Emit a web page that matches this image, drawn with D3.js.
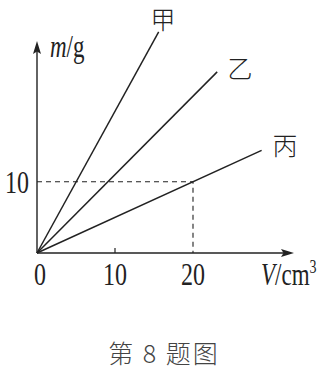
<!DOCTYPE html>
<html><head><meta charset="utf-8">
<script src="https://cdn.jsdelivr.net/npm/d3@7/dist/d3.min.js"></script>
<style>body{margin:0;background:#fff}svg{display:block}</style>
</head><body>
<script>
const seriesNames = ["甲", "乙", "丙"];
const endVolume = [15.6, 23.1, 28.8];   // cm3 at end of each line
const endMass = [31.0, 25.4, 14.4];     // g at end of each line
const xTicks = [0, 10, 20];
const yTicks = [10];
const guideV = 20, guideM = 10;

const W = 328, H = 375;
const svg = d3.select("body").append("svg").attr("width", W).attr("height", H);
const x = d3.scaleLinear().domain([0, 20]).range([37, 193]);
const y = d3.scaleLinear().domain([0, 10]).range([253, 181.7]);
const ink = "#222";
const serif = "'Liberation Serif','DejaVu Serif',serif";
const cjk = "'Noto Sans CJK SC',sans-serif";
const stretch = 1.33;

// axes
svg.append("line").attr("x1", x(0)).attr("y1", y(0)).attr("x2", 290).attr("y2", y(0))
  .attr("stroke", ink).attr("stroke-width", 1.4);
svg.append("path").attr("d", `M294,${y(0)} L281,${y(0)-4} L283.5,${y(0)} L281,${y(0)+4} Z`).attr("fill", ink);
svg.append("line").attr("x1", x(0)).attr("y1", y(0)).attr("x2", x(0)).attr("y2", 45)
  .attr("stroke", ink).attr("stroke-width", 1.4);
svg.append("path").attr("d", `M${x(0)},41 L${x(0)-4},54 L${x(0)},51.5 L${x(0)+4},54 Z`).attr("fill", ink);

// tick at 10
svg.append("line").attr("x1", x(10)).attr("x2", x(10)).attr("y1", y(0)).attr("y2", y(0) - 5)
  .attr("stroke", ink).attr("stroke-width", 1.2);

// guides
svg.append("path").attr("d", `M${x(0)},${y(guideM)} H${x(guideV)} V${y(0)}`)
  .attr("fill", "none").attr("stroke", ink).attr("stroke-width", 1.1).attr("stroke-dasharray", "5,4");

// lines
seriesNames.forEach((n, i) => {
  svg.append("line").attr("x1", x(0)).attr("y1", y(0))
    .attr("x2", x(endVolume[i])).attr("y2", y(endMass[i]))
    .attr("stroke", ink).attr("stroke-width", 1.5);
});
const labelPos = [[163, 29], [240, 78], [285, 155]];
seriesNames.forEach((n, i) => {
  svg.append("text").attr("x", labelPos[i][0]).attr("y", labelPos[i][1])
    .attr("text-anchor", "middle").attr("font-family", cjk).attr("font-weight", 300)
    .attr("font-size", 25).attr("fill", ink).text(n);
});

function stretchedText(px, py, size, anchor) {
  return svg.append("text")
    .attr("transform", `translate(${px},${py}) scale(1,${stretch})`)
    .attr("text-anchor", anchor).attr("font-family", serif)
    .attr("font-size", size).attr("fill", ink);
}

// tick labels
xTicks.forEach(t => {
  stretchedText(x(t) + (t === 0 ? 3 : 0), 285, 24, "middle").text(t);
});
yTicks.forEach(t => {
  stretchedText(29, y(t) + 11, 24, "end").text(t);
});

// axis titles
const mt = stretchedText(50, 57, 23, "start");
mt.append("tspan").attr("font-style", "italic").text("m");
mt.append("tspan").text("/g");
const vt = stretchedText(261, 285, 23, "start");
vt.append("tspan").attr("font-style", "italic").text("V");
vt.append("tspan").text("/cm");
vt.append("tspan").attr("font-size", 14).attr("dy", -9).text("3");

// caption
svg.append("text").attr("x", 164).attr("y", 363).attr("text-anchor", "middle")
  .attr("font-family", cjk).attr("font-weight", 300).attr("font-size", 25).attr("fill", "#444")
  .attr("letter-spacing", 2)
  .text("第 8 题图");
</script>
</body></html>
